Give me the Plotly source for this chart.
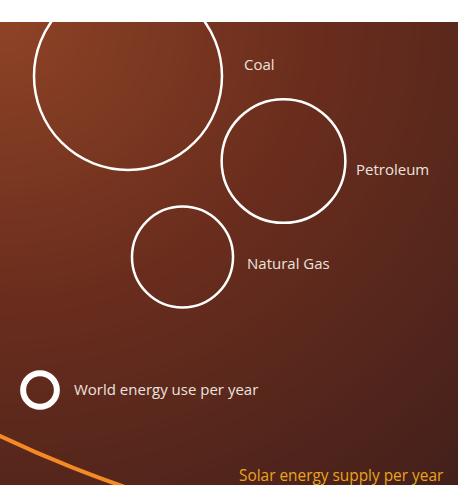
import numpy as np
import plotly.graph_objects as go

# ---- data ----
categories = ["Coal", "Petroleum", "Natural Gas"]
reserves_twy = [900, 390, 260]          # finite reserves (area-proportional circles)
world_use_label = "World energy use per year"
world_use_twy = 29
solar_label = "Solar energy supply per year"
solar_supply_twy = 147000

# ---- layout constants (pixels-as-units) ----
W, H, TOP = 458, 485, 22
PH = H - TOP
K = 3.133  # radius per sqrt(unit)
centers = {"Coal": (128, PH - 54), "Petroleum": (283.5, PH - 139), "Natural Gas": (182.5, PH - 235)}
label_pos = {"Coal": (242, PH - 42), "Petroleum": (354, PH - 147), "Natural Gas": (245, PH - 241)}
world_center = (40, PH - 368)
solar_center = (515.5, PH + 671)

fig = go.Figure()

# background gradient
gx = np.linspace(0, W, 60)
gy = np.linspace(0, PH, 60)
XX, YY = np.meshgrid(gx, gy)
zz = np.sqrt(0.8 * (XX / W) ** 2 + ((PH - YY) / PH) ** 2)
fig.add_trace(go.Heatmap(x=gx, y=gy, z=zz, zsmooth="best", showscale=False, hoverinfo="skip",
                         colorscale=[[0, "#8e4326"], [0.45, "#6a2d1d"], [1, "#43201b"]]))

shapes = []
annotations = []
txt = "#ece3df"
FS = 15
for name, v in zip(categories, reserves_twy):
    cx, cy = centers[name]
    r = K * np.sqrt(v)
    shapes.append(dict(type="circle", xref="x", yref="y", x0=cx - r, x1=cx + r, y0=cy - r, y1=cy + r,
                       line=dict(color="white", width=2.5)))
    lx, ly = label_pos[name]
    annotations.append(dict(x=lx, y=ly, text=name, showarrow=False, xanchor="left", yanchor="middle",
                            font=dict(color=txt, size=FS, family="Open Sans")))

r = K * np.sqrt(world_use_twy)
cx, cy = world_center
shapes.append(dict(type="circle", xref="x", yref="y", x0=cx - r, x1=cx + r, y0=cy - r, y1=cy + r,
                   line=dict(color="white", width=6)))
annotations.append(dict(x=72, y=cy + 1, text=world_use_label, showarrow=False, xanchor="left", yanchor="middle",
                        font=dict(color=txt, size=FS, family="Open Sans")))

r = K * np.sqrt(solar_supply_twy)
cx, cy = solar_center
shapes.append(dict(type="circle", xref="x", yref="y", x0=cx - r, x1=cx + r, y0=cy - r, y1=cy + r,
                   line=dict(color="#f58a24", width=4)))
annotations.append(dict(x=446, y=10, text=solar_label, showarrow=False, xanchor="right", yanchor="middle",
                        font=dict(color="#e9a51e", size=15.4, family="Open Sans")))

fig.update_layout(
    width=W, height=H,
    margin=dict(l=0, r=0, t=TOP, b=0),
    paper_bgcolor="white", plot_bgcolor="#6a2d1d",
    xaxis=dict(range=[0, W], visible=False, fixedrange=True),
    yaxis=dict(range=[0, PH], visible=False, fixedrange=True),
    shapes=shapes, annotations=annotations, showlegend=False,
)
fig.write_html("out.html", config={"displayModeBar": False},
               post_script="document.body.style.margin='0';document.body.style.padding='0';")
